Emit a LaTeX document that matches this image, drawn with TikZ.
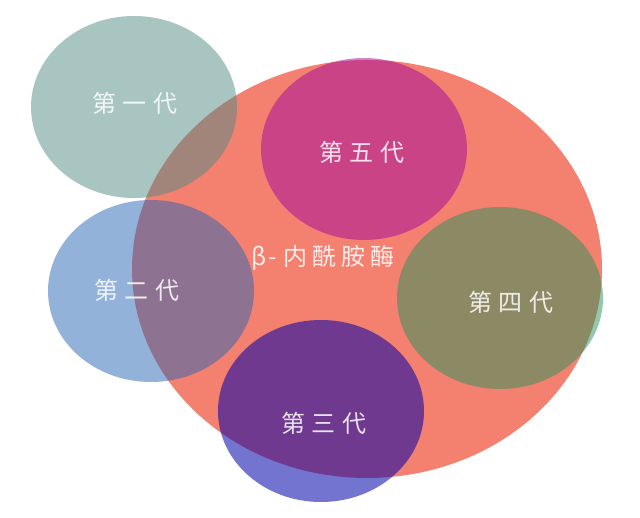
\documentclass[tikz,border=0pt]{standalone}
\usepackage{fontspec}
\setmainfont{Noto Sans CJK SC}
\usetikzlibrary{shapes.geometric}
\definecolor{salmon}{HTML}{F4806F}
\definecolor{teal1}{HTML}{518B85}
\definecolor{blue2}{HTML}{2765B3}
\definecolor{blue3}{HTML}{0000AA}
\definecolor{green4}{HTML}{26935C}
\definecolor{mag5}{HTML}{A407A0}
\newcommand{\gen}[1]{第\hspace{7pt}#1\hspace{7pt}代}

\begin{document}
\begin{tikzpicture}[x=1pt,y=-1pt,
    ring/.style={ellipse, minimum width=206pt, minimum height=182pt, inner sep=0pt},
    lbl/.style={text=white, text opacity=0.85, font=\fontsize{24}{24}\selectfont, inner sep=0pt}]
    \useasboundingbox (0,0) rectangle (640,518);
    % big enzyme circle
    \node[ellipse, fill=salmon, minimum width=470pt, minimum height=418pt, inner sep=0pt] (enz) at (367,269) {};
    \foreach \n/\x/\y/\col/\op in {1/134/107/teal1/0.5, 2/151/291/blue2/0.5,
        5/364/149/mag5/0.5, 4/500/298/green4/0.5, 3/321/411/blue3/0.55}
    {
      \node[ring, fill=\col, fill opacity=\op] (g\n) at (\x,\y) {};
    }
    % labels
    \node[lbl] (t1) at (135,103) {\gen{一}};
    \node[lbl] (t2) at (137,290) {\gen{二}};
    \node[lbl] (t3) at (324,423) {\gen{三}};
    \node[lbl] (t4) at (511,302) {\gen{四}};
    \node[lbl] (t5) at (362,152) {\gen{五}};
    \node[lbl] (enzt) at (323,258) {β\hspace{2pt}-\hspace{6pt}内\hspace{5pt}酰\hspace{5pt}胺\hspace{5pt}酶};
\end{tikzpicture}
\end{document}
